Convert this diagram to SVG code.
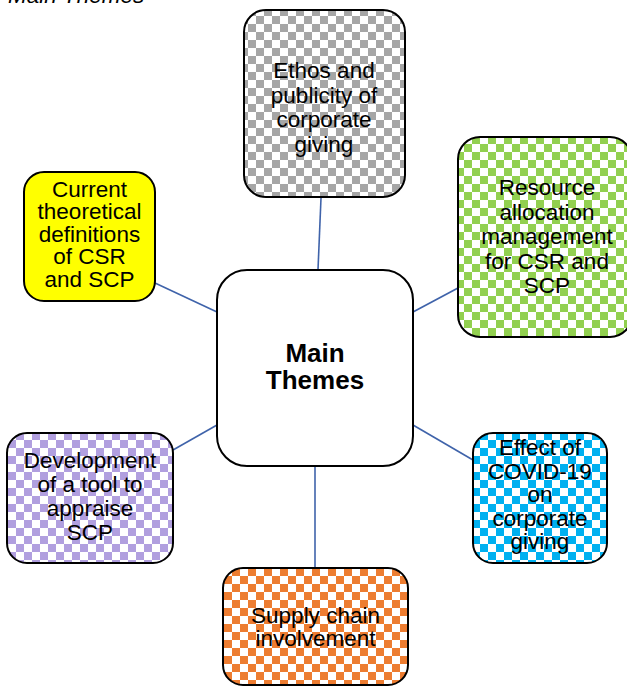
<svg xmlns="http://www.w3.org/2000/svg" width="627" height="687" viewBox="0 0 627 687">
  <style>
    .box { stroke: #000; stroke-width: 2; }
    .lbl { font-family: "Liberation Sans", Arial, sans-serif; font-size: 22.5px; fill: #000; text-anchor: middle; }
    .hub { font-family: "Liberation Sans", Arial, sans-serif; font-size: 26px; font-weight: bold; fill: #000; text-anchor: middle; }
    .title { font-family: "Liberation Sans", Arial, sans-serif; font-size: 22.5px; font-style: italic; fill: #000; }
    .link { stroke: #3F63AA; stroke-width: 1.6; fill: none; }
  </style>
  <defs>
    <!-- 8px checkerboards: colour squares on white -->
    <pattern id="chkGray" width="16" height="16" patternUnits="userSpaceOnUse">
      <rect width="16" height="16" fill="#fff"/>
      <rect width="8" height="8" fill="#A6A6A6"/>
      <rect x="8" y="8" width="8" height="8" fill="#A6A6A6"/>
    </pattern>
    <pattern id="chkGreen" width="16" height="16" patternUnits="userSpaceOnUse">
      <rect width="16" height="16" fill="#fff"/>
      <rect width="8" height="8" fill="#92D050"/>
      <rect x="8" y="8" width="8" height="8" fill="#92D050"/>
    </pattern>
    <pattern id="chkBlue" width="16" height="16" patternUnits="userSpaceOnUse">
      <rect width="16" height="16" fill="#fff"/>
      <rect width="8" height="8" fill="#00B0F0"/>
      <rect x="8" y="8" width="8" height="8" fill="#00B0F0"/>
    </pattern>
    <pattern id="chkPurple" width="16" height="16" patternUnits="userSpaceOnUse">
      <rect width="16" height="16" fill="#fff"/>
      <rect width="8" height="8" fill="#B19FDF"/>
      <rect x="8" y="8" width="8" height="8" fill="#B19FDF"/>
    </pattern>
    <pattern id="chkOrange" width="16" height="16" patternUnits="userSpaceOnUse">
      <rect width="16" height="16" fill="#fff"/>
      <rect width="8" height="8" fill="#ED7D31"/>
      <rect x="8" y="8" width="8" height="8" fill="#ED7D31"/>
    </pattern>
  </defs>

  <rect width="627" height="687" fill="#fff"/>

  <text class="title" x="8" y="3">Main Themes</text>

  <!-- spokes from the hub to each theme -->
  <g id="connectors">
    <line class="link" x1="321" y1="198" x2="318" y2="270"/>
    <line class="link" x1="155" y1="283" x2="217" y2="312"/>
    <line class="link" x1="413" y1="312" x2="458" y2="288"/>
    <line class="link" x1="217" y1="425" x2="173" y2="450"/>
    <line class="link" x1="413" y1="425" x2="473" y2="460"/>
    <line class="link" x1="315" y1="466" x2="315" y2="568"/>
  </g>

  <g id="hub">
    <rect class="box" x="217" y="270" width="196" height="196" rx="30" fill="#fff"/>
    <text class="hub" x="315" y="362">Main</text>
    <text class="hub" x="315" y="389">Themes</text>
  </g>

  <g id="ethos">
    <rect class="box" x="244" y="10" width="161" height="187" rx="22" fill="url(#chkGray)"/>
    <text class="lbl" x="324" y="78">Ethos and</text>
    <text class="lbl" x="324" y="102.5">publicity of</text>
    <text class="lbl" x="324" y="127">corporate</text>
    <text class="lbl" x="324" y="151.5">giving</text>
  </g>

  <g id="resource">
    <rect class="box" x="458" y="137" width="174" height="200" rx="22" fill="url(#chkGreen)"/>
    <text class="lbl" x="547" y="195">Resource</text>
    <text class="lbl" x="547" y="219.5">allocation</text>
    <text class="lbl" x="547" y="244">management</text>
    <text class="lbl" x="547" y="268.5">for CSR and</text>
    <text class="lbl" x="547" y="293">SCP</text>
  </g>

  <g id="definitions">
    <rect class="box" x="24" y="172" width="131" height="129" rx="20" fill="#FFFF00"/>
    <text class="lbl" x="89.5" y="196.5">Current</text>
    <text class="lbl" x="89.5" y="219">theoretical</text>
    <text class="lbl" x="89.5" y="241.5">definitions</text>
    <text class="lbl" x="89.5" y="264">of CSR</text>
    <text class="lbl" x="89.5" y="286.5">and SCP</text>
  </g>

  <g id="covid">
    <rect class="box" x="473" y="433" width="134" height="130" rx="20" fill="url(#chkBlue)"/>
    <text class="lbl" x="540" y="455">Effect of</text>
    <text class="lbl" x="540" y="478.5">COVID-19</text>
    <text class="lbl" x="540" y="502">on</text>
    <text class="lbl" x="540" y="525.5">corporate</text>
    <text class="lbl" x="540" y="549">giving</text>
  </g>

  <g id="tool">
    <rect class="box" x="7" y="433" width="166" height="130" rx="20" fill="url(#chkPurple)"/>
    <text class="lbl" x="90" y="468">Development</text>
    <text class="lbl" x="90" y="492">of a tool to</text>
    <text class="lbl" x="90" y="516">appraise</text>
    <text class="lbl" x="90" y="540">SCP</text>
  </g>

  <g id="supply">
    <rect class="box" x="223" y="568" width="185" height="117" rx="20" fill="url(#chkOrange)"/>
    <text class="lbl" x="315.5" y="623">Supply chain</text>
    <text class="lbl" x="315.5" y="646">involvement</text>
  </g>
</svg>
